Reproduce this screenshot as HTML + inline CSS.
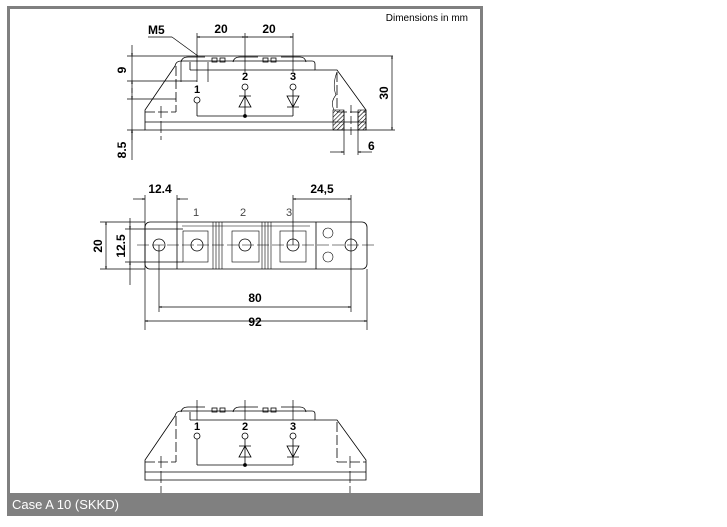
<!DOCTYPE html>
<html><head><meta charset="utf-8"><style>
html,body{margin:0;padding:0;background:#fff;width:727px;height:527px;overflow:hidden}
svg{display:block}
text{font-family:"Liberation Sans",Arial,sans-serif}
</style></head><body>
<svg width="727" height="527" viewBox="0 0 727 527" xmlns="http://www.w3.org/2000/svg">
<defs>
<marker id="a" viewBox="0 0 10 10" refX="10" refY="5" markerWidth="6" markerHeight="4" orient="auto-start-reverse"><path d="M0,2 L10,5 L0,8" fill="none" stroke="#000" stroke-width="1.2"/></marker>
<pattern id="h" width="3" height="3" patternUnits="userSpaceOnUse" patternTransform="rotate(45)"><line x1="0" y1="0" x2="0" y2="3" stroke="#000" stroke-width="1.2"/></pattern>
<g id="side" fill="none" stroke="#000" stroke-width="0.8">
  <path d="M181,62 Q182,57 188,57 L205,57 M233,62 Q234,57 240,57 L258,57 M281,57 L300,57 Q305,57 306,62"/>
  <rect x="212" y="58" width="5" height="4"/><rect x="220" y="58" width="5" height="4"/>
  <rect x="263" y="58" width="5" height="4"/><rect x="271" y="58" width="5" height="4"/>
  <path d="M175,66 Q176,61 181,61 L312,61 Q315,61 315,64 L315,70 L337,70 L366,110 L366,130 L145,130 L145,110 L175,66"/>
  <line x1="190" y1="62" x2="190" y2="70"/><line x1="190" y1="70" x2="315" y2="70"/>
  <line x1="145" y1="122" x2="366" y2="122"/>
  <line x1="176" y1="66" x2="176" y2="112" stroke-dasharray="10,3"/>
  <line x1="145" y1="112" x2="176" y2="112" stroke-dasharray="10,3"/>
  <line x1="337" y1="72" x2="337" y2="112" stroke-dasharray="10,3"/>
  <line x1="337" y1="112" x2="366" y2="112" stroke-dasharray="10,3"/>
</g>
</defs>
<rect x="8.5" y="7.5" width="473" height="500" fill="none" stroke="#808080" stroke-width="3"/>
<rect x="7" y="493" width="476" height="23" fill="#808080"/>
<text x="12" y="509" font-size="13" fill="#fff">Case A 10 (SKKD)</text>
<text x="468" y="21" font-size="10" text-anchor="end">Dimensions in mm</text>

<!-- TOP VIEW -->
<use href="#side"/>
<g fill="none" stroke="#000" stroke-width="0.8">
  <circle cx="197" cy="100" r="3"/><line x1="197" y1="103" x2="197" y2="116"/>
  <circle cx="245" cy="87" r="3"/><line x1="245" y1="90" x2="245" y2="116"/>
  <path d="M239,107 L251,107 L245,96 Z M239,96 L251,96"/>
  <circle cx="293" cy="87" r="3"/><line x1="293" y1="90" x2="293" y2="116"/>
  <path d="M287,96 L299,96 L293,107 Z M287,107 L299,107"/>
  <line x1="197" y1="116" x2="293" y2="116"/>
  <circle cx="245" cy="116" r="1.5" fill="#000"/>
</g>
<g font-size="11" font-weight="bold" text-anchor="middle">
<text x="197" y="93">1</text><text x="245" y="80">2</text><text x="293" y="80">3</text></g>
<g fill="none" stroke="#000" stroke-width="0.7">
<line x1="127" y1="56" x2="393" y2="56"/>
<line x1="127" y1="81" x2="197" y2="81"/>
<line x1="127" y1="130" x2="145" y2="130"/>
<line x1="366" y1="130" x2="395" y2="130"/>
<line x1="132" y1="45" x2="132" y2="56" marker-end="url(#a)"/>
<line x1="132" y1="93" x2="132" y2="81" marker-end="url(#a)"/>
<line x1="132" y1="56" x2="132" y2="81"/>
<line x1="127" y1="99" x2="176" y2="99"/>
<line x1="132" y1="88" x2="132" y2="99" marker-end="url(#a)"/>
<line x1="132" y1="140" x2="132" y2="130" marker-end="url(#a)"/>
<line x1="132" y1="99" x2="132" y2="160"/>
<line x1="392" y1="56" x2="392" y2="130" marker-start="url(#a)" marker-end="url(#a)"/>
<line x1="197" y1="33" x2="197" y2="82"/><line x1="245" y1="33" x2="245" y2="72"/><line x1="293" y1="33" x2="293" y2="72"/>
<line x1="197" y1="37" x2="245" y2="37" marker-start="url(#a)" marker-end="url(#a)"/>
<line x1="245" y1="37" x2="293" y2="37" marker-start="url(#a)" marker-end="url(#a)"/>
<line x1="148" y1="37" x2="172" y2="37"/><line x1="172" y1="37" x2="198" y2="56"/>
<line x1="181" y1="62" x2="181" y2="82"/><line x1="208" y1="62" x2="208" y2="82"/>
<line x1="161" y1="106" x2="161" y2="140" stroke-dasharray="12,3"/>
<line x1="344" y1="112" x2="344" y2="155"/><line x1="358" y1="112" x2="358" y2="155"/>
<line x1="351" y1="105" x2="351" y2="135" stroke-dasharray="8,3"/>
<line x1="330" y1="152" x2="344" y2="152" marker-end="url(#a)"/>
<line x1="372" y1="152" x2="358" y2="152" marker-end="url(#a)"/>
</g>
<rect x="333" y="110" width="11" height="20" fill="url(#h)" stroke="#000" stroke-width="0.6"/>
<rect x="358" y="110" width="8" height="20" fill="url(#h)" stroke="#000" stroke-width="0.6"/>
<path d="M337,72 Q332,85 336,95 Q330,102 334,110" fill="none" stroke="#000" stroke-width="0.6"/>
<g font-size="12" font-weight="bold">
<text x="148" y="34">M5</text>
<text x="221" y="33" text-anchor="middle">20</text><text x="269" y="33" text-anchor="middle">20</text>
<text x="368" y="150">6</text>
<text transform="translate(126,70) rotate(-90)" text-anchor="middle">9</text>
<text transform="translate(126,150) rotate(-90)" text-anchor="middle">8.5</text>
<text transform="translate(388,93) rotate(-90)" text-anchor="middle">30</text>
</g>

<!-- PLAN VIEW -->
<g fill="none" stroke="#000" stroke-width="0.8">
<rect x="145" y="222" width="222" height="47" rx="5"/>
<line x1="177" y1="222" x2="177" y2="269"/><line x1="316" y1="222" x2="316" y2="269"/>
<g stroke-width="0.6">
<line x1="182" y1="226" x2="310" y2="226"/>
<rect x="183" y="231" width="25" height="31"/><rect x="232" y="231" width="27" height="31"/><rect x="280" y="231" width="26" height="31"/>
<line x1="213" y1="222" x2="213" y2="269"/><line x1="216" y1="222" x2="216" y2="269"/><line x1="219" y1="222" x2="219" y2="269"/><line x1="222" y1="222" x2="222" y2="269"/>
<line x1="262" y1="222" x2="262" y2="269"/><line x1="265" y1="222" x2="265" y2="269"/><line x1="268" y1="222" x2="268" y2="269"/><line x1="271" y1="222" x2="271" y2="269"/>
<circle cx="328" cy="233" r="5"/><circle cx="328" cy="257" r="5"/>
</g>
<circle cx="159" cy="245" r="6"/><circle cx="197" cy="245" r="6"/><circle cx="245" cy="245" r="6"/><circle cx="293" cy="245" r="6"/><circle cx="351" cy="245" r="6"/>
<line x1="137" y1="245" x2="374" y2="245" stroke-width="0.6" stroke-dasharray="12,3"/>
<g stroke-width="0.7">
<line x1="145" y1="195" x2="145" y2="330"/><line x1="177" y1="195" x2="177" y2="222"/>
<line x1="293" y1="195" x2="293" y2="245"/><line x1="351" y1="195" x2="351" y2="312"/>
<line x1="159" y1="245" x2="159" y2="312"/><line x1="367" y1="269" x2="367" y2="330"/>
<line x1="133" y1="199" x2="145" y2="199" marker-end="url(#a)"/><line x1="188" y1="199" x2="177" y2="199" marker-end="url(#a)"/>
<line x1="293" y1="199" x2="351" y2="199" marker-start="url(#a)" marker-end="url(#a)"/>
<line x1="159" y1="307" x2="351" y2="307" marker-start="url(#a)" marker-end="url(#a)"/>
<line x1="145" y1="321" x2="367" y2="321" marker-start="url(#a)" marker-end="url(#a)"/>
<line x1="100" y1="222" x2="145" y2="222"/><line x1="100" y1="269" x2="145" y2="269"/>
<line x1="106" y1="222" x2="106" y2="269" marker-start="url(#a)" marker-end="url(#a)"/>
<line x1="125" y1="229" x2="183" y2="229"/><line x1="125" y1="262" x2="183" y2="262"/>
<line x1="130" y1="218" x2="130" y2="229" marker-end="url(#a)"/><line x1="130" y1="285" x2="130" y2="262" marker-end="url(#a)"/>
<line x1="130" y1="229" x2="130" y2="262"/>
</g>
</g>
<g font-size="11" fill="#444" text-anchor="middle"><text x="196" y="216">1</text><text x="243" y="216">2</text><text x="289" y="216">3</text></g>
<g font-size="12" font-weight="bold" text-anchor="middle">
<text x="160" y="193">12.4</text><text x="322" y="193">24,5</text>
<text x="255" y="302">80</text><text x="255" y="326">92</text>
<text transform="translate(102,246) rotate(-90)">20</text>
<text transform="translate(125,246) rotate(-90)">12.5</text>
</g>

<!-- BOTTOM VIEW -->
<use href="#side" transform="translate(0,350)"/>
<g fill="none" stroke="#000" stroke-width="0.8">
  <circle cx="197" cy="436" r="3"/><line x1="197" y1="439" x2="197" y2="465"/>
  <circle cx="245" cy="436" r="3"/><line x1="245" y1="439" x2="245" y2="465"/>
  <path d="M239,457 L251,457 L245,446 Z M239,446 L251,446"/>
  <circle cx="293" cy="436" r="3"/><line x1="293" y1="439" x2="293" y2="465"/>
  <path d="M287,446 L299,446 L293,457 Z M287,457 L299,457"/>
  <line x1="197" y1="465" x2="293" y2="465"/>
  <circle cx="245" cy="465" r="1.5" fill="#000"/>
</g>
<g font-size="11" font-weight="bold" text-anchor="middle">
<text x="197" y="430">1</text><text x="245" y="430">2</text><text x="293" y="430">3</text></g>
<g stroke="#000" stroke-width="0.7">
<line x1="197" y1="400" x2="197" y2="420"/><line x1="245" y1="400" x2="245" y2="420"/><line x1="293" y1="400" x2="293" y2="420"/>
<line x1="161" y1="456" x2="161" y2="493" stroke-dasharray="12,3"/><line x1="350" y1="456" x2="350" y2="493" stroke-dasharray="12,3"/>
</g>
</svg>
</body></html>
